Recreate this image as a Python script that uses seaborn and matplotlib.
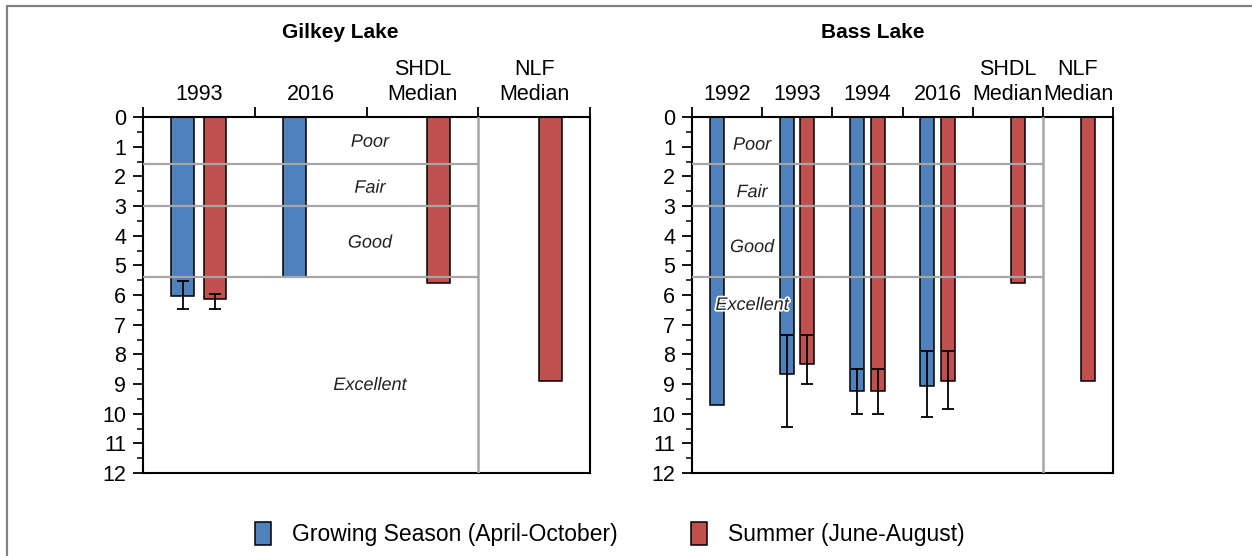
import numpy as np
import pandas as pd
import matplotlib
matplotlib.use("Agg")
import matplotlib.pyplot as plt
import matplotlib.patheffects as pe
import seaborn as sns
from matplotlib.patches import Patch
from matplotlib.lines import Line2D

nan = np.nan

SERIES = ["Growing Season (April-October)", "Summer (June-August)"]
COLORS = ["#4F81BD", "#C0504D"]

# Gilkey Lake (Secchi depth, ft)
gilkey_cats = ["1993", "2016", "SHDL\nMedian", "NLF\nMedian"]
gilkey_grow = [6.05, 5.4, nan, nan]
gilkey_grow_lo = [5.52, nan, nan, nan]
gilkey_grow_hi = [6.47, nan, nan, nan]
gilkey_summer = [6.15, nan, 5.6, 8.9]
gilkey_summer_lo = [5.96, nan, nan, nan]
gilkey_summer_hi = [6.47, nan, nan, nan]

# Bass Lake
bass_cats = ["1992", "1993", "1994", "2016", "SHDL\nMedian", "NLF\nMedian"]
bass_grow = [9.72, 8.65, 9.25, 9.06, nan, nan]
bass_grow_lo = [nan, 7.36, 8.5, 7.88, nan, nan]
bass_grow_hi = [nan, 10.46, 10.0, 10.12, nan, nan]
bass_summer = [nan, 8.32, 9.25, 8.91, 5.6, 8.9]
bass_summer_lo = [nan, 7.36, 8.5, 7.88, nan, nan]
bass_summer_hi = [nan, 8.99, 10.0, 9.84, nan, nan]

thresholds = [1.6, 3.0, 5.4]
zone_labels = ["Poor", "Fair", "Good", "Excellent"]

BAR_W = 0.58
GRAY = "#A6A6A6"


def draw_panel(ax, cats, grow, grow_lo, grow_hi, summer, summer_lo, summer_hi,
               label_x, label_y):
    n = len(cats)
    df = pd.DataFrame({
        "cat": cats * 2,
        "series": [SERIES[0]] * n + [SERIES[1]] * n,
        "value": grow + summer,
    }).dropna()
    sns.barplot(data=df, x="cat", y="value", hue="series", order=cats,
                hue_order=SERIES, palette=COLORS, saturation=1,
                width=BAR_W, gap=0.31, edgecolor="black", linewidth=1.1,
                errorbar=None, legend=False, ax=ax, zorder=2)

    # error bars (ranges), placed on the dodged bar centres
    for k, (vals, lo, hi) in enumerate([(grow, grow_lo, grow_hi),
                                        (summer, summer_lo, summer_hi)]):
        off = (-1 if k == 0 else 1) * BAR_W / 4
        for i in range(n):
            if np.isnan(lo[i]):
                continue
            ax.errorbar(i + off, vals[i],
                        yerr=[[vals[i] - lo[i]], [hi[i] - vals[i]]],
                        fmt="none", ecolor="black", elinewidth=1.3,
                        capsize=4, capthick=1.3, zorder=4)

    ax.hlines(thresholds, -0.5, n - 1.5, color=GRAY, lw=1.6, zorder=3)
    ax.axvline(n - 1.5, color=GRAY, lw=1.8, zorder=3)

    for txt, y in zip(zone_labels, label_y):
        ax.text(label_x, y, txt, ha="center", va="center", style="italic",
                fontsize=13, color="#222222", zorder=5,
                path_effects=[pe.withStroke(linewidth=2.5, foreground="white")])

    ax.set_xlim(-0.5, n - 0.5)
    ax.set_ylim(12, 0)
    ax.set_xlabel("")
    ax.set_ylabel("")

    ax.xaxis.tick_top()
    ax.set_xticks(np.arange(n + 1) - 0.5)
    ax.set_xticklabels([])
    ax.set_xticks(np.arange(n), minor=True)
    ax.set_xticklabels(cats, minor=True)
    ax.tick_params(axis="x", which="major", length=7, width=1.3,
                   direction="out", top=True, bottom=False, color="black")
    ax.tick_params(axis="x", which="minor", length=0, pad=9, labelsize=15.5,
                   top=True, bottom=False, labeltop=True, labelbottom=False,
                   labelcolor="black")

    ax.set_yticks(np.arange(0, 13, 1))
    ax.set_yticks(np.arange(0, 12.5, 0.5), minor=True)
    ax.tick_params(axis="y", which="major", length=7, width=1.3,
                   direction="out", left=True, labelsize=15.5, pad=5,
                   color="black", labelcolor="black")
    ax.tick_params(axis="y", which="minor", length=4, width=1.1,
                   direction="out", left=True, color="black")

    for s in ax.spines.values():
        s.set_visible(True)
        s.set_color("black")
        s.set_linewidth(1.5)


def main():
    sns.set_style("white")
    plt.rcParams["font.family"] = ["Liberation Sans", "DejaVu Sans"]
    plt.rcParams["text.color"] = "black"

    fig = plt.figure(figsize=(12.52, 5.56), dpi=100)
    ax1 = fig.add_axes([143 / 1252, 83 / 556, 447 / 1252, 356 / 556])
    ax2 = fig.add_axes([692 / 1252, 83 / 556, 421 / 1252, 356 / 556])

    draw_panel(ax1, gilkey_cats, gilkey_grow, gilkey_grow_lo, gilkey_grow_hi,
               gilkey_summer, gilkey_summer_lo, gilkey_summer_hi,
               1.53, [0.85, 2.4, 4.25, 9.05])
    draw_panel(ax2, bass_cats, bass_grow, bass_grow_lo, bass_grow_hi,
               bass_summer, bass_summer_lo, bass_summer_hi,
               0.355, [0.95, 2.55, 4.4, 6.35])

    fig.text(340 / 1252, 1 - 32 / 556, "Gilkey Lake", ha="center", va="center",
             fontsize=15, fontweight="bold")
    fig.text(873 / 1252, 1 - 32 / 556, "Bass Lake", ha="center", va="center",
             fontsize=15, fontweight="bold")

    handles = [Patch(facecolor=c, edgecolor="black", linewidth=1.1) for c in COLORS]
    fig.legend(handles, SERIES, loc="center", bbox_to_anchor=(0.487, 0.04),
               ncol=2, frameon=False, fontsize=16.5, handlelength=0.7,
               handleheight=1.2, columnspacing=3.2, handletextpad=0.9)

    # outer frame (left and top edges only)
    fx = 6.5 / 1252
    fy = 1 - 6 / 556
    fig.add_artist(Line2D([fx, fx], [0, fy], transform=fig.transFigure,
                          color="#808080", lw=1.6))
    fig.add_artist(Line2D([fx, 1], [fy, fy], transform=fig.transFigure,
                          color="#808080", lw=1.6))

    fig.savefig("out.png", dpi=100)
    plt.close(fig)


if __name__ == "__main__":
    main()
